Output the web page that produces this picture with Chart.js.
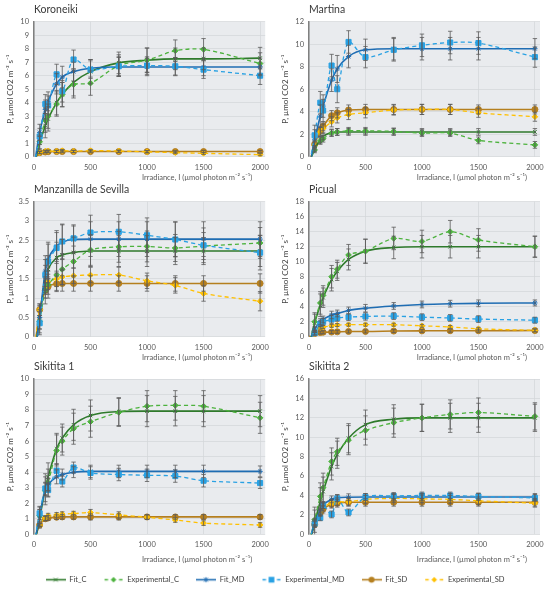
<!DOCTYPE html>
<html>
<head>
<meta charset="utf-8">
<script src="https://cdn.jsdelivr.net/npm/chart.js@4.4.1/dist/chart.umd.min.js"></script>
<style>
html, body { margin: 0; padding: 0; background: #fff; }
#page { position: relative; width: 550px; height: 591px; overflow: hidden; }
.panel { position: absolute; }
</style>
</head>
<body>
<div id="page"></div>
<script>
// irradiance levels (x) and axis ticks
const irradiance = [0, 50, 100, 125, 200, 250, 350, 500, 750, 1000, 1250, 1500, 2000];
const xTicks = [0, 500, 1000, 1500, 2000];

// Koroneiki
const koroFitC  = [-0.6, 1.0, 2.3, 2.8, 4.0, 4.6, 5.5, 6.3, 6.95, 7.15, 7.25, 7.25, 7.3];
const koroExpC  = [-0.5, 1.1, 2.7, 3.0, 3.9, 4.6, 5.35, 5.45, 6.75, 7.15, 7.85, 7.95, 6.9];
const koroFitMD = [-0.8, 1.8, 3.5, 4.1, 5.4, 5.9, 6.3, 6.55, 6.65, 6.65, 6.65, 6.65, 6.65];
const koroExpMD = [-0.6, 1.5, 3.9, 3.8, 6.1, 4.85, 7.2, 6.45, 6.7, 6.75, 6.7, 6.45, 6.0];
const koroFitSD = [-0.3, 0.3, 0.35, 0.37, 0.38, 0.38, 0.38, 0.38, 0.38, 0.38, 0.38, 0.38, 0.38];
const koroExpSD = [-0.3, 0.3, 0.4, 0.42, 0.4, 0.45, 0.4, 0.45, 0.42, 0.36, 0.3, 0.25, 0.15];
const koroErrC  = [0, 0.5, 0.9, 0.9, 0.9, 0.9, 1.0, 0.9, 0.8, 0.9, 0.8, 0.8, 0.8];
const koroErrMD = [0, 0.6, 0.7, 0.7, 0.75, 0.8, 0.7, 0.65, 0.7, 0.65, 0.65, 0.65, 0.65];
const koroErrSD = [0, 0.08, 0.08, 0.08, 0.08, 0.08, 0.08, 0.08, 0.08, 0.08, 0.08, 0.08, 0.08];

// Martina
const martFitC  = [-0.6, 0.7, 1.5, 1.8, 2.15, 2.2, 2.2, 2.2, 2.2, 2.2, 2.2, 2.2, 2.2];
const martExpC  = [-0.5, 0.6, 1.4, 1.6, 2.1, 2.2, 2.3, 2.3, 2.25, 2.1, 2.1, 1.45, 1.05];
const martFitMD = [-1.2, 1.5, 3.6, 4.5, 6.8, 7.8, 8.9, 9.5, 9.6, 9.6, 9.6, 9.6, 9.6];
const martExpMD = [-1.0, 1.9, 4.8, 4.1, 8.1, 6.0, 10.2, 8.85, 9.5, 9.9, 10.15, 10.1, 8.85];
const martFitSD = [-0.8, 1.1, 2.3, 2.7, 3.65, 3.9, 4.15, 4.2, 4.2, 4.2, 4.2, 4.2, 4.2];
const martExpSD = [-0.6, 1.0, 2.2, 2.5, 3.1, 3.45, 3.75, 3.9, 4.15, 4.2, 4.2, 3.9, 3.55];
const martErrC  = [0, 0.25, 0.3, 0.3, 0.3, 0.3, 0.3, 0.3, 0.3, 0.3, 0.3, 0.3, 0.3];
const martErrMD = [0, 0.9, 1.0, 1.0, 1.0, 1.2, 1.0, 0.95, 1.0, 1.0, 1.0, 1.0, 0.9];
const martErrSD = [0, 0.3, 0.4, 0.4, 0.45, 0.45, 0.45, 0.45, 0.45, 0.45, 0.45, 0.4, 0.4];

// Manzanilla de Sevilla
const manzFitC  = [-0.6, 0.5, 1.5, 1.75, 2.05, 2.12, 2.18, 2.22, 2.22, 2.22, 2.22, 2.22, 2.22];
const manzExpC  = [-0.5, 0.4, 1.2, 1.35, 1.6, 1.75, 1.95, 2.25, 2.33, 2.34, 2.3, 2.35, 2.43];
const manzFitMD = [-0.6, 0.5, 1.7, 2.0, 2.35, 2.45, 2.52, 2.53, 2.53, 2.53, 2.53, 2.53, 2.53];
const manzExpMD = [-0.7, 0.35, 1.6, 1.95, 2.3, 2.47, 2.55, 2.7, 2.72, 2.63, 2.52, 2.37, 2.18];
const manzFitSD = [-0.5, 0.7, 1.2, 1.3, 1.37, 1.38, 1.38, 1.38, 1.38, 1.38, 1.38, 1.38, 1.38];
const manzExpSD = [-0.4, 0.7, 1.3, 1.42, 1.5, 1.55, 1.58, 1.6, 1.6, 1.45, 1.33, 1.12, 0.92];
const manzErrC  = [0, 0.3, 0.35, 0.35, 0.4, 0.4, 0.4, 0.4, 0.4, 0.4, 0.35, 0.35, 0.4];
const manzErrMD = [0, 0.3, 0.4, 0.45, 0.4, 0.45, 0.35, 0.45, 0.45, 0.45, 0.45, 0.45, 0.45];
const manzErrSD = [0, 0.15, 0.2, 0.2, 0.2, 0.2, 0.2, 0.2, 0.2, 0.2, 0.2, 0.2, 0.25];

// Picual
const picFitC  = [-1.5, 1.8, 4.2, 5.2, 7.6, 8.7, 10.3, 11.4, 11.9, 12.0, 12.0, 12.0, 12.0];
const picExpC  = [-1.2, 2.0, 4.5, 5.5, 8.0, 9.0, 10.9, 11.4, 13.1, 12.7, 14.0, 12.9, 12.0];
const picFitMD = [-0.8, 1.0, 2.0, 2.3, 2.9, 3.1, 3.5, 3.8, 4.1, 4.3, 4.4, 4.45, 4.5];
const picExpMD = [-0.8, 0.5, 1.7, 2.0, 2.3, 2.5, 2.6, 2.7, 2.75, 2.6, 2.5, 2.35, 2.2];
const picFitSD = [-0.3, 0.4, 0.55, 0.6, 0.62, 0.65, 0.7, 0.7, 0.75, 0.78, 0.8, 0.8, 0.82];
const picExpSD = [-0.5, 0.7, 1.2, 1.3, 1.45, 1.55, 1.6, 1.6, 1.6, 1.45, 1.3, 1.05, 0.85];
const picErrC  = [0, 1.2, 1.5, 1.3, 1.5, 1.2, 1.4, 1.6, 1.5, 1.5, 1.5, 1.5, 1.4];
const picErrMD = [0, 0.3, 0.4, 0.45, 0.5, 0.45, 0.45, 0.5, 0.45, 0.45, 0.45, 0.45, 0.4];
const picErrSD = [0, 0.15, 0.2, 0.2, 0.2, 0.2, 0.2, 0.2, 0.2, 0.2, 0.2, 0.2, 0.2];

// Sikitita 1
const sik1FitC  = [-0.8, 1.0, 3.0, 3.7, 5.5, 6.2, 7.05, 7.65, 7.9, 7.93, 7.93, 7.93, 7.93];
const sik1ExpC  = [-0.6, 1.2, 2.8, 3.3, 5.4, 6.0, 6.8, 7.25, 7.85, 8.25, 8.3, 8.25, 7.5];
const sik1FitMD = [-0.8, 1.2, 2.9, 3.2, 3.7, 3.85, 4.0, 4.05, 4.05, 4.05, 4.05, 4.05, 4.05];
const sik1ExpMD = [-0.6, 1.35, 2.95, 2.85, 4.1, 3.4, 4.3, 3.95, 3.85, 3.8, 3.75, 3.45, 3.3];
const sik1FitSD = [-0.4, 0.6, 1.0, 1.05, 1.1, 1.12, 1.12, 1.12, 1.12, 1.12, 1.12, 1.12, 1.12];
const sik1ExpSD = [-0.4, 0.6, 1.05, 1.2, 1.25, 1.3, 1.33, 1.4, 1.25, 1.1, 0.92, 0.72, 0.6];
const sik1ErrC  = [0, 0.6, 0.9, 0.9, 1.0, 0.9, 1.0, 1.0, 0.9, 1.0, 0.95, 1.0, 1.0];
const sik1ErrMD = [0, 0.4, 0.4, 0.4, 0.45, 0.35, 0.35, 0.4, 0.4, 0.4, 0.4, 0.4, 0.35];
const sik1ErrSD = [0, 0.1, 0.15, 0.15, 0.15, 0.15, 0.15, 0.2, 0.2, 0.15, 0.15, 0.15, 0.15];

// Sikitita 2
const sik2FitC  = [-1.2, 1.2, 3.4, 4.4, 7.0, 8.2, 9.9, 11.3, 11.85, 12.0, 12.0, 12.0, 12.0];
const sik2ExpC  = [-1.0, 1.5, 3.9, 4.8, 7.5, 8.5, 9.7, 10.7, 11.5, 12.0, 12.35, 12.55, 12.15];
const sik2FitMD = [-0.9, 1.2, 2.5, 3.0, 3.6, 3.75, 3.82, 3.85, 3.85, 3.85, 3.85, 3.85, 3.85];
const sik2ExpMD = [-0.8, 1.1, 1.7, 3.0, 2.05, 3.7, 2.25, 3.85, 3.95, 4.0, 4.0, 3.9, 3.75];
const sik2FitSD = [-0.8, 1.0, 2.2, 2.6, 3.1, 3.2, 3.3, 3.3, 3.3, 3.3, 3.3, 3.3, 3.3];
const sik2ExpSD = [-0.8, 1.3, 2.3, 2.8, 3.2, 3.35, 3.35, 3.6, 3.7, 3.65, 3.6, 3.45, 3.2];
const sik2ErrC  = [0, 1.3, 1.4, 1.5, 1.4, 1.4, 1.5, 1.5, 1.5, 1.4, 1.5, 1.5, 1.4];
const sik2ErrMD = [0, 0.3, 0.3, 0.35, 0.35, 0.35, 0.35, 0.35, 0.35, 0.35, 0.35, 0.35, 0.35];
const sik2ErrSD = [0, 0.3, 0.35, 0.4, 0.4, 0.4, 0.4, 0.4, 0.4, 0.4, 0.4, 0.4, 0.4];

const FONT = 'Lato, "Noto Sans", sans-serif';
const X_TITLE = 'Irradiance, I (\u00b5mol photon m\u207b\u00b2 s\u207b\u00b9)';
const Y_TITLE = 'P, \u00b5mol CO2 m\u207b\u00b2 s\u207b\u00b9';
const GRID = '#d3d5d9';

// look of every series
const styles = {
   Fit_C:           { color: '#2f7a2c', marker: 'crossRot', radius: 2.5, dashed: false },
   Experimental_C:  { color: '#4cb23d', marker: 'rectRot',  radius: 2.8, dashed: true },
   Fit_MD:          { color: '#1f6db3', marker: 'star',     radius: 2.6, dashed: false },
   Experimental_MD: { color: '#29a1e3', marker: 'rect',     radius: 3.6, dashed: true },
   Fit_SD:          { color: '#b57f1f', marker: 'circle',   radius: 3.0, dashed: false },
   Experimental_SD: { color: '#ffc000', marker: 'rectRot',  radius: 2.8, dashed: true }
};
const legendOrder = ['Fit_C', 'Experimental_C', 'Fit_MD', 'Experimental_MD', 'Fit_SD', 'Experimental_SD'];

// panels: data + where they sit on the page
const panels = [
   { title: 'Koroneiki', yMax: 10, yStep: 1, left: 0, top: 0, height: 185, padRight: 8.3, xAxisH: 28.3, titlePadB: 5.6, xTitleDy: 21.3,
     fitC: koroFitC, expC: koroExpC, fitMD: koroFitMD, expMD: koroExpMD, fitSD: koroFitSD, expSD: koroExpSD, errC: koroErrC, errMD: koroErrMD, errSD: koroErrSD },
   { title: 'Martina', yMax: 12, yStep: 2, left: 275, top: 0, height: 185, padRight: 10, xAxisH: 28.3, titlePadB: 5.6, xTitleDy: 21.3,
     fitC: martFitC, expC: martExpC, fitMD: martFitMD, expMD: martExpMD, fitSD: martFitSD, expSD: martExpSD, errC: martErrC, errMD: martErrMD, errSD: martErrSD },
   { title: 'Manzanilla de Sevilla', yMax: 3.5, yStep: 0.5, left: 0, top: 180, height: 185, padRight: 8.3, xAxisH: 28.3, titlePadB: 5.6, xTitleDy: 21.3,
     fitC: manzFitC, expC: manzExpC, fitMD: manzFitMD, expMD: manzExpMD, fitSD: manzFitSD, expSD: manzExpSD, errC: manzErrC, errMD: manzErrMD, errSD: manzErrSD },
   { title: 'Picual', yMax: 18, yStep: 2, left: 275, top: 180, height: 185, padRight: 10, xAxisH: 28.3, titlePadB: 5.6, xTitleDy: 21.3,
     fitC: picFitC, expC: picExpC, fitMD: picFitMD, expMD: picExpMD, fitSD: picFitSD, expSD: picExpSD, errC: picErrC, errMD: picErrMD, errSD: picErrSD },
   { title: 'Sikitita 1', yMax: 10, yStep: 1, left: 0, top: 357, height: 213, padRight: 8.3, xAxisH: 35.7, titlePadB: 5.9, xTitleDy: 25.7,
     fitC: sik1FitC, expC: sik1ExpC, fitMD: sik1FitMD, expMD: sik1ExpMD, fitSD: sik1FitSD, expSD: sik1ExpSD, errC: sik1ErrC, errMD: sik1ErrMD, errSD: sik1ErrSD },
   { title: 'Sikitita 2', yMax: 16, yStep: 2, left: 275, top: 357, height: 213, padRight: 10, xAxisH: 35.7, titlePadB: 5.9, xTitleDy: 25.7,
     fitC: sik2FitC, expC: sik2ExpC, fitMD: sik2FitMD, expMD: sik2ExpMD, fitSD: sik2FitSD, expSD: sik2ExpSD, errC: sik2ErrC, errMD: sik2ErrMD, errSD: sik2ErrSD }
];

// grey plot area
const plotBackground = {
   id: 'plotBackground',
   beforeDraw(chart) {
      const a = chart.chartArea, ctx = chart.ctx;
      ctx.save();
      ctx.fillStyle = '#e9ebee';
      ctx.fillRect(a.left, a.top, a.right - a.left, a.bottom - a.top);
      ctx.restore();
   }
};

// vertical error bars with caps, read from dataset.errors
const errorBars = {
   id: 'errorBars',
   afterDatasetsDraw(chart) {
      const ctx = chart.ctx, a = chart.chartArea, yScale = chart.scales.y;
      ctx.save();
      ctx.beginPath();
      ctx.rect(a.left, a.top - 2, a.right - a.left, a.bottom - a.top + 2);
      ctx.clip();
      ctx.strokeStyle = '#5a5a5a';
      ctx.lineWidth = 0.8;
      chart.data.datasets.forEach((ds, di) => {
         if (!ds.errors) return;
         const meta = chart.getDatasetMeta(di);
         meta.data.forEach((pt, i) => {
            const e = ds.errors[i];
            if (!e) return;
            const v = ds.data[i].y;
            const y1 = yScale.getPixelForValue(v + e);
            const y2 = yScale.getPixelForValue(v - e);
            ctx.beginPath();
            ctx.moveTo(pt.x, y1); ctx.lineTo(pt.x, y2);
            ctx.moveTo(pt.x - 2.2, y1); ctx.lineTo(pt.x + 2.2, y1);
            ctx.moveTo(pt.x - 2.2, y2); ctx.lineTo(pt.x + 2.2, y2);
            ctx.stroke();
         });
      });
      ctx.restore();
   }
};

// x axis title, right-aligned a bit inside the plot
const xTitle = {
   id: 'xTitle',
   afterDraw(chart, args, opts) {
      const ctx = chart.ctx, a = chart.chartArea;
      ctx.save();
      ctx.font = '7.5px ' + FONT;
      ctx.fillStyle = '#595959';
      ctx.textAlign = 'right';
      ctx.textBaseline = 'middle';
      ctx.fillText(opts.text, a.right - 13, a.bottom + opts.dy);
      ctx.restore();
   }
};

function series(name, values, errors) {
   const st = styles[name];
   return {
      label: name,
      data: irradiance.map((x, i) => ({ x: x, y: values[i] })),
      errors: errors,
      borderColor: st.color,
      backgroundColor: st.color,
      borderWidth: st.dashed ? 1.3 : 1.6,
      borderDash: st.dashed ? [4, 3] : [],
      pointStyle: st.marker,
      pointRadius: st.radius,
      pointBorderWidth: 1,
      pointBackgroundColor: st.color,
      pointBorderColor: st.color,
      tension: st.dashed ? 0.3 : 0.4,
      cubicInterpolationMode: st.dashed ? 'default' : 'monotone',
      fill: false
   };
}

const tickFont = { family: FONT, size: 7.5 };
const page = document.getElementById('page');

for (const p of panels) {
   const div = document.createElement('div');
   div.className = 'panel';
   div.style.left = p.left + 'px';
   div.style.top = p.top + 'px';
   div.style.width = '275px';
   div.style.height = p.height + 'px';
   const canvas = document.createElement('canvas');
   div.appendChild(canvas);
   page.appendChild(div);

   new Chart(canvas, {
      type: 'line',
      data: {
         datasets: [
            series('Experimental_MD', p.expMD, p.errMD),
            series('Fit_MD', p.fitMD, p.errMD),
            series('Experimental_C', p.expC, p.errC),
            series('Fit_C', p.fitC, p.errC),
            series('Experimental_SD', p.expSD, p.errSD),
            series('Fit_SD', p.fitSD, p.errSD)
         ]
      },
      options: {
         responsive: true,
         maintainAspectRatio: false,
         animation: false,
         layout: { padding: { left: 0, right: p.padRight, top: 0, bottom: 0 } },
         plugins: {
            legend: { display: false },
            tooltip: { enabled: false },
            title: {
               display: true,
               text: p.title,
               align: 'start',
               fullSize: false,
               color: '#3a3a3a',
               font: { family: FONT, size: 10.5, weight: 'normal' },
               padding: { top: 3.5, bottom: p.titlePadB }
            },
            xTitle: { text: X_TITLE, dy: p.xTitleDy }
         },
         scales: {
            x: {
               type: 'linear',
               min: 0,
               max: 2045,
               afterBuildTicks: s => { s.ticks = xTicks.map(v => ({ value: v })); },
               afterFit: s => { s.height = p.xAxisH; },
               grid: { color: GRID, lineWidth: 0.7, drawTicks: false },
               border: { display: false },
               ticks: { font: tickFont, color: '#595959', padding: 6, maxRotation: 0, autoSkip: false, callback: v => String(v) }
            },
            y: {
               min: 0,
               max: p.yMax,
               afterFit: s => { s.width = 34; },
               grid: { color: GRID, lineWidth: 0.7, drawTicks: false },
               border: { color: '#808080', width: 1.5 },
               ticks: { stepSize: p.yStep, font: tickFont, color: '#595959', padding: 5, callback: v => String(v) },
               title: { display: true, text: Y_TITLE, color: '#404040', font: { family: FONT, size: 8 }, padding: { top: 5.5, bottom: 0 } }
            }
         }
      },
      plugins: [plotBackground, errorBars, xTitle]
   });
}

// marker shapes for the legend samples
function drawMarker(ctx, shape, r, x, y) {
   ctx.beginPath();
   if (shape === 'rect') {
      ctx.rect(x - r * 0.8, y - r * 0.8, r * 1.6, r * 1.6);
      ctx.fill();
   } else if (shape === 'rectRot') {
      ctx.moveTo(x, y - r); ctx.lineTo(x + r, y); ctx.lineTo(x, y + r); ctx.lineTo(x - r, y); ctx.closePath();
      ctx.fill();
   } else if (shape === 'circle') {
      ctx.arc(x, y, r, 0, Math.PI * 2);
      ctx.fill();
   } else if (shape === 'crossRot') {
      const d = r * 0.75;
      ctx.moveTo(x - d, y - d); ctx.lineTo(x + d, y + d);
      ctx.moveTo(x - d, y + d); ctx.lineTo(x + d, y - d);
      ctx.stroke();
   } else {
      const d = r * 0.75;
      ctx.moveTo(x - d, y - d); ctx.lineTo(x + d, y + d);
      ctx.moveTo(x - d, y + d); ctx.lineTo(x + d, y - d);
      ctx.moveTo(x, y - r); ctx.lineTo(x, y + r);
      ctx.stroke();
   }
}

// legend samples: a short line with the marker in the middle
function sampleImage(name) {
   const st = styles[name];
   const c = document.createElement('canvas');
   c.width = 20; c.height = 9;
   const ctx = c.getContext('2d');
   ctx.strokeStyle = st.color;
   ctx.fillStyle = st.color;
   ctx.lineWidth = st.dashed ? 1.3 : 1.6;
   ctx.beginPath();
   if (st.dashed) {
      ctx.moveTo(1, 4.5); ctx.lineTo(4.5, 4.5);
      ctx.moveTo(15.5, 4.5); ctx.lineTo(19, 4.5);
   } else {
      ctx.moveTo(0, 4.5); ctx.lineTo(20, 4.5);
   }
   ctx.stroke();
   ctx.lineWidth = 1;
   drawMarker(ctx, st.marker, st.radius, 10, 4.5);
   return c;
}

// legend lives on its own chart; tall canvas so the legend box is not squeezed
const legendDiv = document.createElement('div');
legendDiv.className = 'panel';
legendDiv.style.left = '0px';
legendDiv.style.top = '559px';
legendDiv.style.width = '550px';
legendDiv.style.height = '120px';
const legendCanvas = document.createElement('canvas');
legendDiv.appendChild(legendCanvas);
page.appendChild(legendDiv);

const legendSamples = legendOrder.map(sampleImage);

new Chart(legendCanvas, {
   type: 'line',
   data: { datasets: legendOrder.map(n => ({ label: n, data: [{ x: 0, y: 0 }], borderColor: styles[n].color, pointRadius: 0, borderWidth: 0 })) },
   options: {
      responsive: true,
      maintainAspectRatio: false,
      animation: false,
      layout: { padding: 0 },
      scales: { x: { type: 'linear', display: false }, y: { display: false } },
      plugins: {
         tooltip: { enabled: false },
         legend: {
            display: true,
            position: 'top',
            labels: {
               usePointStyle: true,
               pointStyleWidth: 20,
               padding: 17,
               color: '#404040',
               font: { family: FONT, size: 7.5 },
               generateLabels: () => legendOrder.map((n, i) => ({
                  text: n,
                  datasetIndex: i,
                  pointStyle: legendSamples[i],
                  fillStyle: styles[n].color,
                  strokeStyle: styles[n].color,
                  lineWidth: 0,
                  hidden: false,
                  fontColor: '#404040'
               }))
            }
         }
      }
   }
});
</script>
</body>
</html>
